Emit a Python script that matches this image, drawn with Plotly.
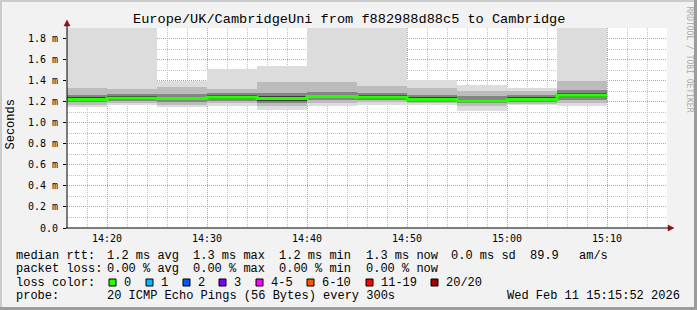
import plotly.graph_objects as go
import pandas as pd

# ---------------- data ----------------
interval_start = ["14:15", "14:20", "14:25", "14:30", "14:35", "14:40",
                  "14:45", "14:50", "14:55", "15:00", "15:05"]
interval_end = "15:10"
median_ms = [1.220, 1.233, 1.230, 1.243, 1.230, 1.250, 1.243, 1.220, 1.210, 1.220, 1.260]
smoke_min = [1.150, 1.170, 1.145, 1.155, 1.125, 1.160, 1.170, 1.170, 1.115, 1.170, 1.160]
smoke_p10 = [1.170, 1.190, 1.170, 1.190, 1.160, 1.190, 1.200, 1.190, 1.160, 1.180, 1.190]
smoke_p25 = [1.195, 1.205, 1.195, 1.210, 1.185, 1.215, 1.215, 1.195, 1.185, 1.195, 1.215]
smoke_p40 = [1.205, 1.218, 1.212, 1.228, 1.210, 1.232, 1.228, 1.205, 1.195, 1.205, 1.240]
smoke_p60 = [1.240, 1.250, 1.245, 1.260, 1.250, 1.268, 1.260, 1.240, 1.230, 1.240, 1.280]
smoke_p75 = [1.265, 1.275, 1.275, 1.285, 1.285, 1.295, 1.285, 1.265, 1.255, 1.265, 1.315]
smoke_p90 = [1.330, 1.320, 1.340, 1.320, 1.390, 1.390, 1.350, 1.330, 1.300, 1.300, 1.400]
smoke_max = [1.950, 1.950, 1.400, 1.510, 1.540, 1.950, 1.950, 1.410, 1.360, 1.330, 1.950]

y_ticks = [0.0, 0.2, 0.4, 0.6, 0.8, 1.0, 1.2, 1.4, 1.6, 1.8]
y_ticktext = ["0.0", "0.2 m", "0.4 m", "0.6 m", "0.8 m", "1.0 m", "1.2 m", "1.4 m", "1.6 m", "1.8 m"]

title_text = "Europe/UK/CambridgeUni from f882988d88c5 to Cambridge"
rtt_stats = ["1.2 ms avg", "1.3 ms max", "1.2 ms min", "1.3 ms now", "0.0 ms sd", "89.9", "am/s"]
loss_stats = ["0.00 % avg", "0.00 % max", "0.00 % min", "0.00 % now"]
loss_labels = ["0", "1", "2", "3", "4-5", "6-10", "11-19", "20/20"]
loss_colors = ["#26ff00", "#00b8ff", "#0059ff", "#7e00ff", "#ff00ff", "#ff5500", "#ff0000", "#a10000"]
probe_text = "20 ICMP Echo Pings (56 Bytes) every 300s"
stamp_text = "Wed Feb 11 15:15:52 2026"

# ---------------- build ----------------
day = "2026-02-11 "
xs = [pd.Timestamp(day + t) for t in interval_start]
x_end = pd.Timestamp(day + interval_end)
W5 = 5 * 60 * 1000

fig = go.Figure()
bands = [(smoke_min, smoke_max, "#dcdcdc"),
         (smoke_p10, smoke_p90, "#bcbcbc"),
         (smoke_p25, smoke_p75, "#858585"),
         (smoke_p40, smoke_p60, "#3c3c3c")]
for lo, hi, col in bands:
    fig.add_trace(go.Bar(x=xs, y=[h - l for l, h in zip(lo, hi)], base=lo,
                         width=[W5] * len(xs), offset=0,
                         marker=dict(color=col, line=dict(width=0)),
                         showlegend=False, hoverinfo="skip"))

fig.add_trace(go.Scatter(x=xs + [x_end], y=median_ms + [median_ms[-1]], mode="lines",
                         line=dict(color="#26ff00", width=3, shape="hv"),
                         showlegend=False, hoverinfo="skip"))

# ---------------- layout helpers ----------------
L, T, PW, PH = 67, 28, 600, 200
def XP(px):
    return (px - L) / PW
def YP(py):
    return (T + PH - py) / PH

LEG_FONT = "Liberation Mono"
TICK_FONT = "DejaVu Sans Mono"

anns = []
def ann(text, px, py, size=12, xanchor="left", color="black", family=LEG_FONT, angle=0):
    anns.append(dict(text=text, x=XP(px), y=YP(py), xref="paper", yref="paper",
                     xanchor=xanchor, yanchor="middle", showarrow=False, borderpad=0,
                     textangle=angle, font=dict(family=family, size=size, color=color)))

ann(title_text, 348.5, 19, size=13.6, xanchor="center")
ann("Seconds", 10.5, 125, size=12, xanchor="center", angle=-90)
ann("RRDTOOL / TOBI OETIKER", 689.5, 59, size=8, xanchor="center", color="#aaaaaa",
    family=TICK_FONT, angle=90)

col_x = [107, 193, 279, 366, 451, 530, 579]
ann("median rtt:", 15, 255.5)
for t, px in zip(rtt_stats, col_x):
    ann(t, px - 1, 255.5)
ann("packet loss:", 15, 269)
for t, px in zip(loss_stats, col_x):
    ann(t, px - 1, 269)
ann("loss color:", 15, 282.5)
box_x = [109, 146, 183, 219, 256, 307, 366, 431]
shapes = []
for lab, col, bx in zip(loss_labels, loss_colors, box_x):
    shapes.append(dict(type="rect", xref="paper", yref="paper",
                       x0=XP(bx), x1=XP(bx + 7), y0=YP(286), y1=YP(279),
                       fillcolor=col, line=dict(color="black", width=1)))
    ann(lab, bx + 13.5, 282.5)
ann("probe:", 15, 296)
ann(probe_text, 106, 296)
ann(stamp_text, 681, 296, xanchor="right")

# frame / borders
def prect(x0, y0, x1, y1, col, layer="above"):
    shapes.append(dict(type="rect", xref="paper", yref="paper", layer=layer,
                       x0=XP(x0), x1=XP(x1), y0=YP(y1), y1=YP(y0),
                       fillcolor=col, line=dict(width=0)))
prect(0, 0, 697, 2, "#cbcbcb")
prect(0, 0, 2, 310, "#cbcbcb")
prect(694, 0, 697, 310, "#9c9c9c")
prect(0, 307, 697, 310, "#9c9c9c")

# axis lines and arrows
shapes.append(dict(type="line", xref="paper", yref="paper", layer="above",
                   x0=XP(67), x1=XP(67), y0=YP(228), y1=YP(24),
                   line=dict(color="black", width=1)))
shapes.append(dict(type="line", xref="paper", yref="paper", layer="above",
                   x0=XP(66), x1=XP(669), y0=YP(228), y1=YP(228),
                   line=dict(color="black", width=1)))
ARW = "#8b1010"
shapes.append(dict(type="path", xref="paper", yref="paper", layer="above",
                   path=f"M {XP(67)} {YP(20)} L {XP(64)} {YP(26)} L {XP(70)} {YP(26)} Z",
                   fillcolor=ARW, line=dict(color=ARW, width=0.5)))
shapes.append(dict(type="path", xref="paper", yref="paper", layer="above",
                   path=f"M {XP(674)} {YP(228)} L {XP(668)} {YP(225)} L {XP(668)} {YP(231)} Z",
                   fillcolor=ARW, line=dict(color=ARW, width=0.5)))

MAJ = "#e29494"
MIN = "#c2c2c2"
DASH = "1px,1px"

fig.update_layout(
    width=697, height=310,
    margin=dict(l=L, r=697 - L - PW, t=T, b=310 - T - PH, pad=0),
    paper_bgcolor="#f2f2f2", plot_bgcolor="#ffffff",
    barmode="overlay", bargap=0, showlegend=False,
    annotations=anns, shapes=shapes,
    xaxis=dict(type="date",
               range=[pd.Timestamp(day + "14:16"), pd.Timestamp(day + "15:16")],
               tick0=pd.Timestamp(day + "14:20"), dtick=600000, tickformat="%H:%M",
               showgrid=True, gridcolor=MAJ, griddash=DASH, gridwidth=1,
               minor=dict(dtick=120000, tick0=pd.Timestamp(day + "14:20"), showgrid=True,
                          gridcolor=MIN, griddash=DASH, gridwidth=1),
               showline=False, zeroline=False, ticks="", ticklabelstandoff=3,
               tickfont=dict(family=TICK_FONT, size=10, color="black"), fixedrange=True),
    yaxis=dict(range=[0, 1.9], tickvals=y_ticks, ticktext=y_ticktext,
               showgrid=True, gridcolor=MAJ, griddash=DASH, gridwidth=1,
               minor=dict(dtick=0.1, tick0=0, showgrid=True, gridcolor=MIN, griddash=DASH, gridwidth=1),
               showline=False, zeroline=False, ticks="outside", ticklen=3, tickcolor="black",
               ticklabelstandoff=3,
               tickfont=dict(family=TICK_FONT, size=10, color="black"), fixedrange=True),
)

fig.write_html("out.html")
